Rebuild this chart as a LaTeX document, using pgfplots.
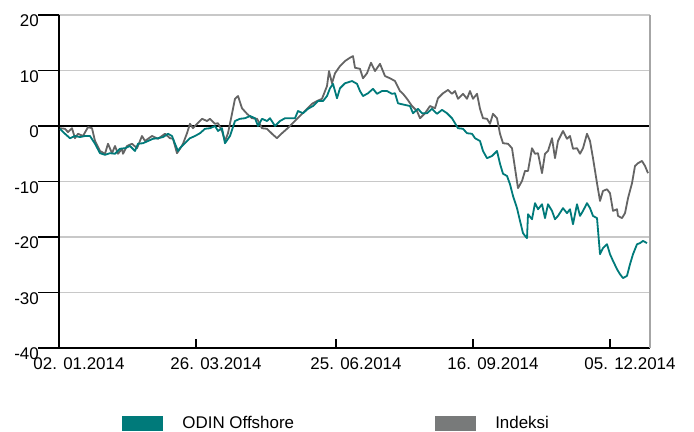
\documentclass[border=0pt]{standalone}
\usepackage{fontspec}
\setmainfont{Liberation Sans}
\usepackage{pgfplots}
\pgfplotsset{compat=1.18}
\definecolor{odin}{RGB}{0,122,122}
\definecolor{indeks}{RGB}{100,100,100}
\definecolor{indekslegend}{RGB}{120,122,122}
\definecolor{gridgray}{RGB}{200,200,200}
\begin{document}
\begin{tikzpicture}
\path[use as bounding box] (-59bp,-84bp) rectangle (635bp,348bp);
\begin{axis}[
  scale only axis, width=591bp, height=333bp,
  xmin=0, xmax=591, ymin=-40, ymax=20,
  axis x line*=bottom, axis y line*=left,
  axis line style={black, line width=1.6bp},
  ytick={-40,-30,-20,-10,0,10,20},
  xtick={0,137,277,414,551},
  xticklabels={02. 01.2014, 26. 03.2014, 25. 06.2014, 16. 09.2014, 05. 12.2014},
  ymajorgrids, grid style={gridgray, line width=1.6bp},
  tick style={black, line width=1.6bp},
  y tick style={draw=none},
  ytick align=outside, xtick align=inside,
  major tick length=9bp,
  /pgf/number format/assume math mode=true,
  every tick label/.append style={font=\fontsize{17}{20}\selectfont},
  yticklabel style={anchor=east, inner sep=1bp, yshift=-6bp, xshift=-10bp},
  xticklabel style={xshift=20bp, yshift=-7bp, inner sep=2bp},
  extra y ticks={0}, extra y tick labels={},
  extra y tick style={grid=major, grid style={black, line width=1.8bp}},
  legend columns=2,
  legend style={draw=none, fill=none, at={(0.1066,-0.2267)}, anchor=west, inner sep=0pt,
     font=\fontsize{17}{20}\selectfont,
     /tikz/every even column/.append style={column sep=139bp}},
  legend image code/.code={\fill[#1] (0bp,-7bp) rectangle (40bp,7bp); \path[draw=none] (0bp,0) -- (58bp,0);},
  after end axis/.code={
    \draw[gray!70, line width=1.2bp] (rel axis cs:1,0) -- (rel axis cs:1,1);
    \foreach \yy in {-40,-30,-20,-10,0,10,20} {\draw[black, line width=1.6bp] (axis cs:0,\yy) -- ++(-21bp,0);}
  },
]
\addlegendimage{odin}
\addlegendentry{ODIN Offshore}
\addlegendimage{indekslegend}
\addlegendentry{Indeksi}
\addplot[indeks, line width=1.8bp, line join=round] coordinates {
(1,-0.4) (6,-0.5) (9,-1.1) (13,-0.4) (16,-2.2) (19,-1.4) (24,-1.8) (29,-0.2) (33,-0.4) (36,-2.7)
(41,-4.5) (46,-5.0) (49,-3.2) (53,-4.9) (56,-3.6) (59,-5.0) (63,-4.1) (64,-5.0) (68,-3.6) (73,-3.2)
(78,-4.0) (83,-1.8) (86,-2.7) (93,-1.8) (99,-2.3) (106,-1.4) (111,-2.2) (114,-2.3) (118,-4.9) (121,-4.1)
(124,-3.2) (128,-1.3) (131,0.4) (134,-0.4) (138,0.4) (143,1.3) (148,0.9) (151,1.3) (156,0.4) (159,0.5)
(163,-0.9) (166,-2.7) (169,-1.3) (173,2.2) (176,4.9) (179,5.4) (183,3.2) (188,2.2) (193,1.4) (198,1.3)
(203,-0.4) (208,-0.5) (213,-1.4) (218,-2.2) (223,-1.3) (228,-0.5) (233,0.4) (238,1.3) (243,2.2) (248,3.1)
(253,4.0) (258,4.5) (263,4.9) (268,7.2) (270,9.9) (273,7.7) (276,9.5) (281,10.8) (286,11.7) (291,12.3)
(294,12.6) (296,10.5) (301,10.3) (304,8.6) (308,9.5) (312,11.4) (316,9.9) (321,11.2) (326,9.0) (331,8.6)
(336,8.1) (341,6.3) (344,5.8) (348,4.9) (353,3.6) (358,2.7) (361,1.4) (366,2.3) (371,3.6) (376,3.2)
(379,5.0) (384,5.9) (389,6.5) (393,5.8) (396,6.3) (399,4.9) (404,5.8) (408,4.9) (411,6.3) (414,4.9)
(418,5.8) (421,3.1) (424,1.4) (428,1.3) (431,0.4) (434,2.2) (438,1.4) (441,-1.4) (444,-3.1) (449,-3.2)
(453,-4.0) (456,-7.6) (459,-11.2) (463,-9.9) (466,-8.1) (469,-8.1) (473,-4.0) (476,-5.0) (479,-4.9) (483,-8.5)
(486,-5.0) (489,-4.5) (493,-2.2) (496,-5.8) (499,-2.7) (504,-0.9) (508,-2.3) (511,-1.8) (514,-4.1) (518,-4.0)
(521,-5.0) (524,-4.0) (528,-1.4) (531,-2.7) (534,-5.8) (538,-10.3) (541,-13.5) (544,-11.7) (548,-11.4) (551,-12.1)
(554,-15.3) (558,-15.0) (559,-16.2) (563,-16.6) (566,-15.7) (569,-13.0) (573,-10.3) (576,-7.2) (579,-6.7) (583,-6.3)
(586,-7.2) (589,-8.5)
};
\addplot[odin, line width=1.8bp, line join=round] coordinates {
(1,-0.5) (6,-1.4) (11,-2.2) (16,-1.8) (21,-2.0) (26,-1.8) (31,-1.8) (36,-3.2) (41,-4.9) (46,-5.2)
(51,-4.9) (56,-5.0) (61,-4.1) (66,-4.0) (71,-3.6) (76,-4.5) (79,-3.2) (84,-3.1) (89,-2.7) (94,-2.3)
(99,-2.2) (104,-2.0) (109,-1.4) (113,-1.8) (116,-3.2) (119,-4.5) (121,-4.0) (126,-3.1) (131,-2.2) (136,-1.8)
(141,-1.3) (146,-0.5) (151,-0.4) (156,0) (159,-0.9) (163,-0.4) (166,-3.1) (171,-1.8) (176,0.9) (181,1.3)
(186,1.4) (191,1.8) (196,1.4) (199,0) (203,1.3) (208,0.9) (211,1.4) (216,0) (221,0.9) (226,1.4)
(231,1.4) (236,1.4) (239,2.7) (244,2.3) (249,3.1) (254,3.6) (259,4.5) (264,4.5) (268,5.4) (271,6.8)
(274,7.6) (278,5.0) (281,6.8) (286,7.7) (293,8.1) (298,7.6) (301,6.3) (304,5.4) (309,5.9) (314,6.7)
(318,5.8) (323,6.3) (328,6.3) (333,5.8) (336,5.9) (339,4.1) (341,4.0) (346,3.8) (351,3.6) (354,2.3)
(359,3.1) (363,2.3) (368,2.3) (373,3.1) (378,2.2) (383,2.9) (388,2.3) (393,1.4) (396,0.5) (399,-0.4)
(404,-0.5) (408,-1.3) (413,-1.4) (416,-2.2) (421,-2.7) (424,-4.5) (428,-5.8) (433,-5.4) (438,-4.5) (441,-6.8)
(444,-8.6) (448,-9.0) (451,-10.5) (454,-12.6) (458,-14.8) (461,-17.1) (464,-19.3) (466,-19.8) (468,-20.2) (469,-15.9)
(473,-16.8) (476,-13.9) (479,-15.0) (483,-14.1) (486,-16.6) (489,-14.1) (493,-15.3) (496,-16.8) (499,-16.2) (504,-14.8)
(508,-15.7) (511,-15.0) (514,-17.7) (518,-14.1) (521,-16.2) (524,-15.3) (528,-13.9) (531,-14.8) (534,-16.2) (538,-16.6)
(541,-23.1) (544,-22.0) (548,-21.3) (551,-23.1) (554,-24.3) (558,-25.8) (561,-26.7) (564,-27.4) (568,-27.0) (571,-24.9)
(574,-23.1) (578,-21.3) (581,-21.1) (584,-20.7) (588,-21.1)
};
\end{axis}
\end{tikzpicture}
\end{document}
